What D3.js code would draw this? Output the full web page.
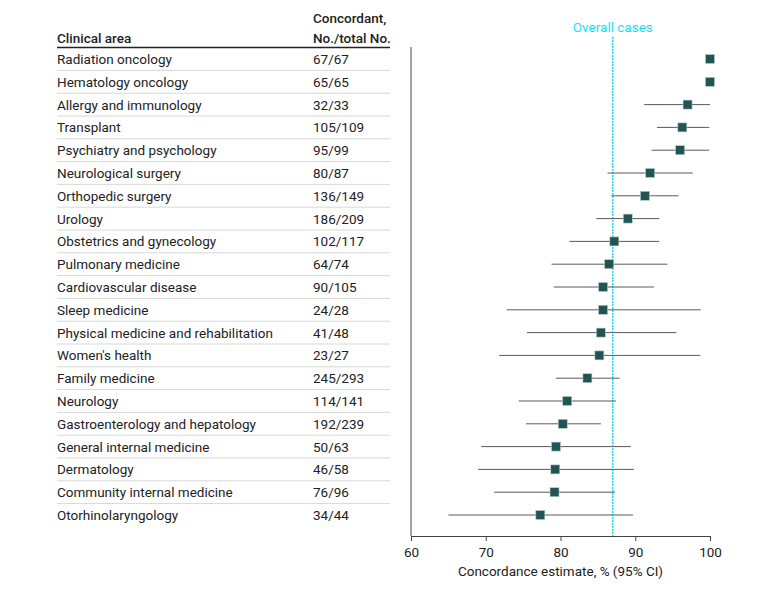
<!DOCTYPE html>
<html><head><meta charset="utf-8">
<script src="https://cdn.jsdelivr.net/npm/d3@7"></script>
<style>body{margin:0;background:#fff;} text{font-family:Roboto,"Noto Sans",sans-serif;}</style>
</head><body>
<svg id="c" width="780" height="589"></svg>
<script>
const categories = ["Radiation oncology","Hematology oncology","Allergy and immunology","Transplant","Psychiatry and psychology","Neurological surgery","Orthopedic surgery","Urology","Obstetrics and gynecology","Pulmonary medicine","Cardiovascular disease","Sleep medicine","Physical medicine and rehabilitation","Women's health","Family medicine","Neurology","Gastroenterology and hepatology","General internal medicine","Dermatology","Community internal medicine","Otorhinolaryngology"];
const concordant = [67,65,32,105,95,80,136,186,102,64,90,24,41,23,245,114,192,50,46,76,34];
const totals = [67,65,33,109,99,87,149,209,117,74,105,28,48,27,293,141,239,63,58,96,44];
const estimates = [100,100,97.0,96.3,96.0,92.0,91.3,89.0,87.2,86.5,85.7,85.7,85.4,85.2,83.6,80.9,80.3,79.4,79.3,79.2,77.3];
const ciLow = [null,null,91.2,92.9,92.2,86.3,86.8,84.8,81.2,78.8,79.1,72.8,75.5,71.8,79.4,74.4,75.4,69.4,69.0,71.1,65.0];
const ciHigh = [null,null,100,99.9,99.9,97.7,95.8,93.2,93.2,94.3,92.5,98.75,95.5,98.7,87.9,87.4,85.4,89.4,89.8,87.3,89.7];
const overall = 87.0;
const xTicks = [60,70,80,90,100];

const FS = 13.5;
const svg = d3.select("#c");
const x = d3.scaleLinear().domain([60,100]).range([411,710]);
const y = d3.scalePoint().domain(categories).range([59,515]);
const step = y.step();

// table header
svg.append("text").attr("x",57).attr("y",43).attr("font-size",FS).attr("font-weight",500).attr("fill","#222").text("Clinical area");
svg.append("text").attr("x",313).attr("y",23).attr("font-size",FS).attr("font-weight",500).attr("fill","#222").text("Concordant,");
svg.append("text").attr("x",313).attr("y",43).attr("font-size",FS).attr("font-weight",500).attr("fill","#222").text("No./total No.");
svg.append("line").attr("x1",57).attr("x2",390).attr("y1",47.5).attr("y2",47.5).attr("stroke","#222").attr("stroke-width",1.5);

// row separators
categories.slice(0,-1).forEach(c=>{
  const yy = y(c)+step/2;
  svg.append("line").attr("x1",57).attr("x2",390).attr("y1",yy).attr("y2",yy).attr("stroke","#d8d8d8").attr("stroke-width",1);
});
// row text
svg.selectAll(".nm").data(categories).join("text").attr("x",57).attr("y",d=>y(d)+5)
  .attr("font-size",FS).attr("fill","#222").text(d=>d);
svg.selectAll(".ct").data(categories).join("text").attr("x",313).attr("y",d=>y(d)+5)
  .attr("font-size",FS).attr("fill","#222").text((d,i)=>concordant[i]+"/"+totals[i]);

// axis
const ax = svg.append("g").attr("transform","translate(0,536)")
  .call(d3.axisBottom(x).tickValues(xTicks).tickSize(5).tickSizeOuter(0).tickFormat(d3.format("d")));
ax.select(".domain").attr("stroke","#444");
ax.selectAll(".tick line").attr("stroke","#444");
ax.selectAll("text").attr("font-size",FS).attr("fill","#222").attr("dy","0.95em").style("font-family","Roboto,sans-serif");
svg.append("line").attr("x1",411).attr("x2",411).attr("y1",47).attr("y2",536).attr("stroke","#444").attr("stroke-width",1);
svg.append("text").attr("x",x(80)).attr("y",576).attr("text-anchor","middle").attr("font-size",FS).attr("fill","#222").text("Concordance estimate, % (95% CI)");

// overall line
svg.append("line").attr("x1",x(overall)).attr("x2",x(overall)).attr("y1",37).attr("y2",536)
  .attr("stroke","#19e0f0").attr("stroke-width",1.5).attr("stroke-dasharray","2,1");
svg.append("text").attr("x",x(overall)).attr("y",32).attr("text-anchor","middle").attr("font-size",FS).attr("fill","#19e0f0").text("Overall cases");

// CI lines
categories.forEach((c,i)=>{
  if(ciLow[i]!=null){
    svg.append("line").attr("x1",x(ciLow[i])).attr("x2",x(ciHigh[i])).attr("y1",y(c)).attr("y2",y(c))
      .attr("stroke","#5a5a5a").attr("stroke-width",1);
  }
});
// markers
const s=9;
svg.selectAll(".pt").data(categories).join("rect")
  .attr("x",(d,i)=>x(estimates[i])-s/2).attr("y",d=>y(d)-s/2).attr("width",s).attr("height",s)
  .attr("fill","#235454").attr("stroke","#b8cccc").attr("stroke-width",0.6);
</script>
</body></html>
